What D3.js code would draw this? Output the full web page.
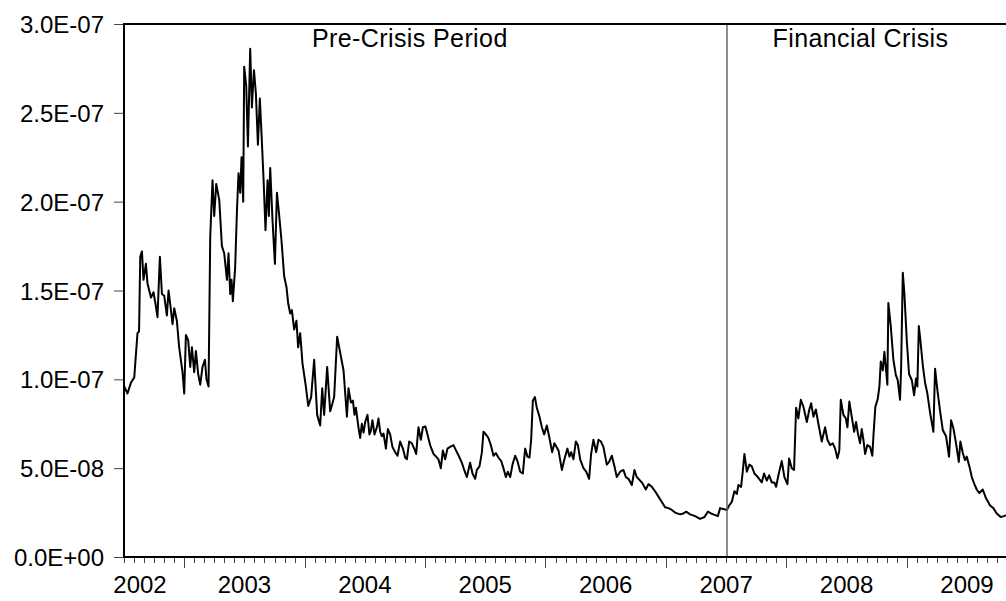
<!DOCTYPE html>
<html>
<head>
<meta charset="utf-8">
<script src="https://cdn.jsdelivr.net/npm/d3@7"></script>
<style>
  body { margin: 0; background: #fff; }
  svg { display: block; }
  text { font-family: "Liberation Sans", Arial, sans-serif; fill: #000; }
</style>
</head>
<body>
<svg id="chart" width="1006" height="601"></svg>
<script>
// Observation dates as decimal years
const obsYear = [
  2002.502, 2002.529, 2002.557, 2002.585, 2002.612, 2002.625, 2002.635, 2002.649, 2002.662, 2002.682,
  2002.695, 2002.724, 2002.745, 2002.765, 2002.778, 2002.798, 2002.815, 2002.834, 2002.856, 2002.870,
  2002.890, 2002.903, 2002.917, 2002.939, 2002.958, 2002.986, 2003.000, 2003.014, 2003.033, 2003.050,
  2003.064, 2003.083, 2003.097, 2003.116, 2003.133, 2003.152, 2003.172, 2003.185, 2003.202, 2003.216,
  2003.235, 2003.249, 2003.266, 2003.291, 2003.313, 2003.332, 2003.355, 2003.368, 2003.382, 2003.393,
  2003.404, 2003.423, 2003.438, 2003.451, 2003.465, 2003.476, 2003.490, 2003.498, 2003.515, 2003.529,
  2003.548, 2003.562, 2003.579, 2003.595, 2003.612, 2003.628, 2003.642, 2003.658, 2003.675, 2003.692,
  2003.703, 2003.714, 2003.733, 2003.753, 2003.770, 2003.789, 2003.808, 2003.830, 2003.849, 2003.863,
  2003.880, 2003.894, 2003.913, 2003.932, 2003.946, 2003.963, 2003.982, 2004.010, 2004.030, 2004.054,
  2004.079, 2004.104, 2004.129, 2004.146, 2004.162, 2004.187, 2004.212, 2004.229, 2004.245, 2004.270,
  2004.295, 2004.323, 2004.337, 2004.351, 2004.364, 2004.384, 2004.401, 2004.414, 2004.426, 2004.447,
  2004.461, 2004.475, 2004.489, 2004.503, 2004.522, 2004.538, 2004.550, 2004.563, 2004.580, 2004.600,
  2004.613, 2004.627, 2004.641, 2004.655, 2004.675, 2004.691, 2004.710, 2004.729, 2004.752, 2004.771,
  2004.793, 2004.816, 2004.835, 2004.849, 2004.868, 2004.890, 2004.910, 2004.926, 2004.945, 2004.965,
  2004.982, 2005.003, 2005.020, 2005.042, 2005.070, 2005.092, 2005.111, 2005.131, 2005.148, 2005.167,
  2005.186, 2005.208, 2005.236, 2005.264, 2005.286, 2005.306, 2005.325, 2005.347, 2005.374, 2005.394,
  2005.416, 2005.430, 2005.452, 2005.472, 2005.485, 2005.505, 2005.526, 2005.546, 2005.568, 2005.588,
  2005.609, 2005.632, 2005.651, 2005.671, 2005.687, 2005.707, 2005.726, 2005.748, 2005.767, 2005.790,
  2005.812, 2005.831, 2005.850, 2005.867, 2005.881, 2005.895, 2005.912, 2005.928, 2005.950, 2005.970,
  2005.989, 2006.011, 2006.033, 2006.055, 2006.074, 2006.108, 2006.136, 2006.157, 2006.182, 2006.199,
  2006.213, 2006.232, 2006.252, 2006.269, 2006.288, 2006.315, 2006.338, 2006.362, 2006.379, 2006.398,
  2006.421, 2006.440, 2006.460, 2006.481, 2006.509, 2006.528, 2006.551, 2006.573, 2006.592, 2006.620,
  2006.647, 2006.667, 2006.689, 2006.717, 2006.739, 2006.758, 2006.786, 2006.805, 2006.833, 2006.855,
  2006.883, 2006.910, 2006.938, 2006.966, 2006.993, 2007.021, 2007.049, 2007.076, 2007.118, 2007.145,
  2007.168, 2007.201, 2007.242, 2007.284, 2007.320, 2007.348, 2007.375, 2007.394, 2007.431, 2007.450,
  2007.477, 2007.506, 2007.525, 2007.547, 2007.569, 2007.589, 2007.602, 2007.624, 2007.638, 2007.652,
  2007.672, 2007.693, 2007.713, 2007.735, 2007.763, 2007.796, 2007.815, 2007.838, 2007.857, 2007.879,
  2007.900, 2007.915, 2007.934, 2007.962, 2007.984, 2008.009, 2008.023, 2008.045, 2008.064, 2008.081,
  2008.100, 2008.120, 2008.142, 2008.170, 2008.191, 2008.206, 2008.225, 2008.245, 2008.266, 2008.294,
  2008.322, 2008.341, 2008.363, 2008.386, 2008.405, 2008.424, 2008.440, 2008.452, 2008.474, 2008.494,
  2008.507, 2008.523, 2008.543, 2008.563, 2008.579, 2008.593, 2008.612, 2008.626, 2008.640, 2008.654,
  2008.673, 2008.695, 2008.714, 2008.723, 2008.739, 2008.759, 2008.773, 2008.784, 2008.801, 2008.814,
  2008.828, 2008.839, 2008.847, 2008.867, 2008.889, 2008.909, 2008.925, 2008.944, 2008.953, 2008.967,
  2008.980, 2009.000, 2009.019, 2009.042, 2009.061, 2009.077, 2009.088, 2009.100, 2009.113, 2009.133,
  2009.152, 2009.171, 2009.194, 2009.221, 2009.235, 2009.254, 2009.277, 2009.299, 2009.326, 2009.351,
  2009.368, 2009.387, 2009.409, 2009.432, 2009.445, 2009.465, 2009.484, 2009.498, 2009.520, 2009.540,
  2009.559, 2009.581, 2009.603, 2009.631, 2009.658, 2009.692, 2009.719, 2009.747, 2009.780, 2009.808,
  2009.824
];

// Series values, in units of 1E-08
const obsValue = [
  9.6, 9.2, 9.8, 10.1, 12.6, 12.7, 16.9, 17.2, 15.6, 16.5,
  15.4, 14.6, 14.9, 14.1, 13.5, 16.9, 14.8, 14.7, 13.6, 15.0,
  13.9, 13.1, 14.0, 13.3, 11.8, 10.4, 9.2, 12.5, 12.2, 10.7,
  11.8, 10.4, 11.6, 10.3, 9.7, 10.7, 11.1, 10.0, 9.6, 18.0,
  21.2, 19.2, 21.0, 20.1, 17.5, 17.1, 15.6, 17.1, 14.8, 15.6,
  14.4, 16.3, 19.5, 21.6, 20.5, 22.5, 20.0, 27.6, 26.5, 23.1,
  28.6, 25.3, 27.4, 26.1, 23.2, 25.8, 23.8, 21.4, 18.4, 21.2,
  19.2, 21.9, 19.0, 16.5, 20.5, 19.2, 17.8, 15.8, 15.2, 14.3,
  13.7, 13.9, 12.8, 13.3, 11.8, 12.6, 10.9, 9.6, 8.5, 9.0,
  11.1, 8.0, 7.4, 9.5, 8.0, 10.7, 8.2, 8.6, 9.0, 12.4,
  11.5, 10.5, 9.2, 7.9, 9.5, 8.7, 8.8, 8.0, 8.4, 7.3,
  6.7, 7.5, 7.0, 7.6, 8.0, 6.9, 7.1, 7.7, 6.9, 7.3,
  7.8, 7.05, 6.8, 6.95, 6.1, 7.2, 6.9, 6.2, 5.9, 5.7,
  6.5, 6.1, 5.6, 5.5, 6.5, 6.4, 6.1, 5.8, 7.3, 6.6,
  7.3, 7.35, 6.9, 6.3, 5.8, 5.65, 5.5, 5.0, 6.0, 5.5,
  6.1, 6.2, 6.3, 5.9, 5.6, 5.3, 4.9, 4.5, 5.3, 4.7,
  4.4, 4.9, 5.1, 5.9, 7.05, 6.9, 6.7, 6.3, 5.7, 5.85,
  5.6, 5.4, 5.0, 4.5, 4.8, 4.5, 5.2, 5.7, 5.4, 4.8,
  4.7, 6.1, 5.65, 5.6, 6.6, 8.8, 9.0, 8.4, 7.9, 7.3,
  6.9, 7.4, 6.7, 5.9, 6.4, 6.0, 4.9, 5.5, 6.1, 5.65,
  5.9, 5.5, 6.5, 6.3, 5.5, 5.0, 4.8, 4.4, 5.8, 6.6,
  5.9, 6.6, 6.5, 6.2, 5.2, 5.35, 5.7, 5.1, 4.5, 4.8,
  4.9, 4.5, 4.4, 4.05, 4.9, 4.5, 4.3, 4.15, 3.8, 4.1,
  3.95, 3.7, 3.4, 3.1, 2.8, 2.75, 2.65, 2.5, 2.4, 2.45,
  2.55, 2.4, 2.3, 2.15, 2.25, 2.55, 2.45, 2.4, 2.3, 2.75,
  2.7, 2.65, 2.9, 3.1, 3.7, 3.55, 4.05, 3.95, 4.8, 5.8,
  4.8, 5.2, 5.1, 4.7, 4.5, 4.2, 4.7, 4.3, 4.6, 4.2,
  4.2, 3.95, 4.6, 5.4, 4.5, 4.1, 5.55, 5.0, 4.9, 8.4,
  7.8, 8.85, 8.45, 7.6, 8.3, 8.65, 7.9, 8.3, 7.5, 6.5,
  7.3, 6.6, 6.3, 6.4, 6.1, 5.55, 6.0, 8.85, 8.0, 7.8,
  7.3, 8.75, 7.9, 7.05, 7.6, 7.0, 6.4, 7.2, 6.6, 5.8,
  6.3, 6.2, 5.7, 6.8, 8.45, 8.9, 9.6, 11.0, 10.5, 11.55,
  10.5, 9.7, 14.3, 13.0, 11.1, 10.25, 9.95, 8.85, 10.6, 16.0,
  14.85, 12.2, 10.3, 9.95, 9.1, 10.05, 9.6, 13.0, 12.2, 10.8,
  9.8, 9.2, 8.1, 7.05, 10.6, 9.4, 8.2, 7.15, 6.8, 5.65,
  7.7, 7.25, 6.4, 5.35, 6.5, 5.85, 5.45, 5.65, 5.1, 4.5,
  4.15, 3.8, 3.6, 3.8, 3.3, 2.9, 2.75, 2.45, 2.25, 2.3,
  2.35
];

const yTicks = [0, 5, 10, 15, 20, 25, 30];
const yTickLabels = ["0.0E+00", "5.0E-08", "1.0E-07", "1.5E-07", "2.0E-07", "2.5E-07", "3.0E-07"];
const yearLabels = ["2002", "2003", "2004", "2005", "2006", "2007", "2008", "2009"];
const crisisStart = 2007.507;
const periodNames = ["Pre-Crisis Period", "Financial Crisis"];

const svg = d3.select("#chart");
const plotLeft = 124, plotRight = 1006, plotTop = 24, plotBottom = 557;
const xStart = 2002.5, xEnd = 2009.824;

const x = d3.scaleLinear().domain([xStart, xEnd]).range([plotLeft, plotRight]);
const y = d3.scaleLinear().domain([0, 30]).range([plotBottom, plotTop]);

// clip region for the series line
svg.append("defs").append("clipPath").attr("id", "plot-clip")
  .append("rect").attr("x", plotLeft).attr("y", plotTop - 2)
  .attr("width", plotRight - plotLeft).attr("height", plotBottom - plotTop + 4);

// y axis ticks and labels
const yAxis = d3.axisLeft(y).tickValues(yTicks)
  .tickFormat((d, i) => yTickLabels[i]).tickSize(10).tickPadding(10);
const gy = svg.append("g").attr("transform", `translate(${plotLeft},0)`).call(yAxis);
gy.select(".domain").remove();
gy.selectAll(".tick line").attr("stroke", "#444").attr("stroke-width", 1);
gy.selectAll(".tick text").attr("font-size", 24).attr("font-family", '"Liberation Sans", Arial, sans-serif')
  .attr("fill", "#000").attr("dy", "0.36em");

// x axis: monthly minor ticks and yearly major ticks
const months = d3.range(Math.ceil(xStart * 12), Math.floor(xEnd * 12) + 1).map(m => m / 12);
const isYear = m => Math.abs(m - Math.round(m)) <= 1e-6;
const gx = svg.append("g");
gx.selectAll("line").data(months).join("line")
  .attr("x1", d => Math.round(x(d)) + 0.5).attr("x2", d => Math.round(x(d)) + 0.5)
  .attr("y1", plotBottom).attr("y2", d => plotBottom + (isYear(d) ? 11 : 6))
  .attr("stroke", "#444").attr("stroke-width", 1);
gx.selectAll("text").data(yearLabels).join("text")
  .attr("x", d => Math.max(x(+d + 0.5), plotLeft + 16))
  .attr("y", 593).attr("text-anchor", "middle").attr("font-size", 24)
  .text(d => d);

// series line
const line = d3.line().x(d => x(d[0])).y(d => y(d[1]));
const series = obsYear.map((t, i) => [t, obsValue[i]]);
svg.append("path").datum(series)
  .attr("clip-path", "url(#plot-clip)")
  .attr("fill", "none").attr("stroke", "#000").attr("stroke-width", 2)
  .attr("stroke-linejoin", "round").attr("d", line);

// crisis divider
svg.append("line")
  .attr("x1", x(crisisStart)).attr("x2", x(crisisStart))
  .attr("y1", plotTop).attr("y2", plotBottom)
  .attr("stroke", "#666").attr("stroke-width", 1.5);

// period labels
const periodMid = [(xStart + crisisStart) / 2 - 0.13, (crisisStart + xEnd) / 2 - 0.05];
svg.selectAll("text.period").data(periodNames).join("text")
  .attr("class", "period")
  .attr("x", (d, i) => x(periodMid[i])).attr("y", 47)
  .attr("text-anchor", "middle").attr("font-size", 25).attr("letter-spacing", 0.4)
  .text(d => d);

// plot frame (left, top, bottom)
svg.append("path")
  .attr("d", `M${plotRight + 2},${plotTop} H${plotLeft} V${plotBottom} H${plotRight + 2}`)
  .attr("fill", "none").attr("stroke", "#000").attr("stroke-width", 2);
</script>
</body>
</html>
